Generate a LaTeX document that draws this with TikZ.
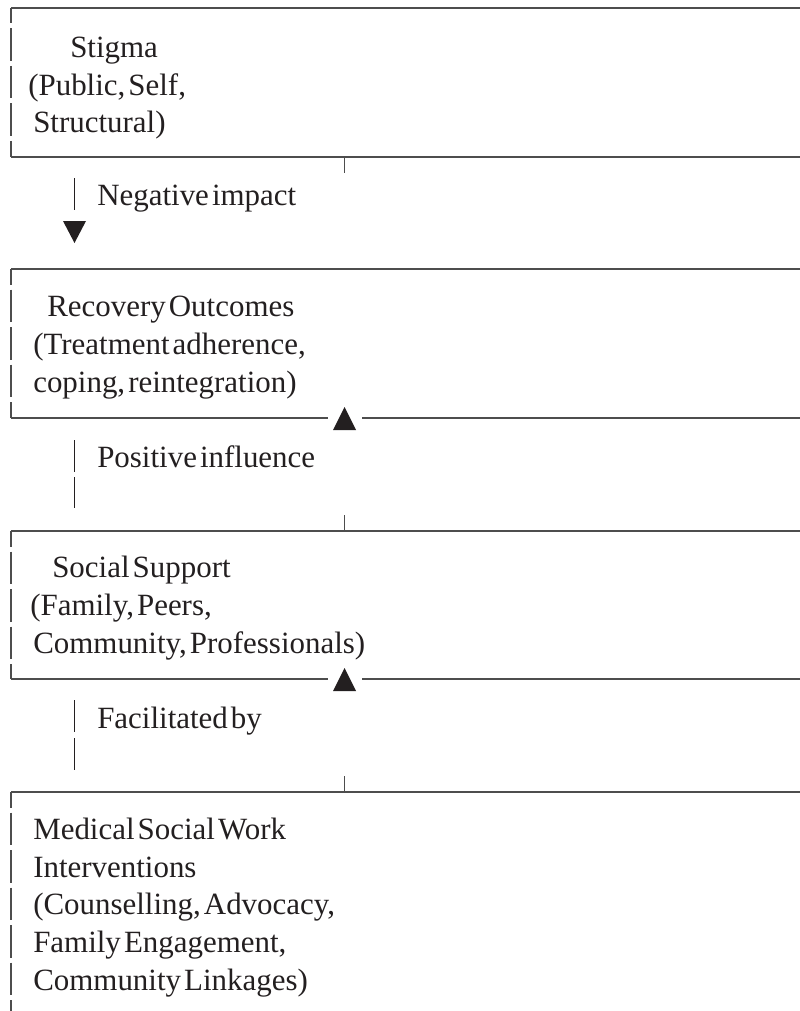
\documentclass[tikz,border=0pt]{standalone}
\usepackage{fontspec}
\setmainfont{Liberation Serif}[WordSpace=0.4]
\usetikzlibrary{positioning}
\newlength\px
\setlength\px{0.025cm}
\definecolor{edgegray}{HTML}{4D4D4D}
\definecolor{inkblack}{HTML}{231F20}
\tikzset{
  every node/.style={
    font=\fontsize{22pt}{26.7pt}\selectfont,
    text=inkblack,
    inner sep=0pt
  },
  panel/.style={
    anchor=north west,
    minimum width=820\px,
    outer sep=0pt
  },
  boxtext/.style={
    anchor=base west,
    align=left
  },
  linklabel/.style={
    anchor=base west
  },
  boxedge/.style={
    draw=edgegray,
    line width=0.85pt
  },
  sideedge/.style={
    boxedge,
    dash pattern=on 32.5\px off 5\px,
    dash phase=17\px
  },
  linkbar/.style={
    draw=inkblack,
    line width=0.7pt
  },
  headfill/.style={
    fill=inkblack
  }
}
\begin{document}
\begin{tikzpicture}[x=1\px, y=-1\px]
\useasboundingbox (0,0) rectangle (800,1011);

\node[panel, minimum height=149\px] (stigma) at (11,8) {};
\node[panel, minimum height=149\px] (recovery) at (11,269) {};
\node[panel, minimum height=148\px] (support) at (11,531) {};
\node[panel, minimum height=240\px] (msw) at (11,792) {};

\node[boxtext] (stigmatext) at (33,133)
  {\hspace*{37\px}Stigma\\\hspace*{-5\px}(Public, Self,\\Structural)};
\node[boxtext] (recoverytext) at (33,392)
  {\hspace*{14\px}Recovery Outcomes\\(Treatment adherence,\\coping, reintegration)};
\node[boxtext] (supporttext) at (33,653)
  {\hspace*{19\px}Social Support\\\hspace*{-3\px}(Family, Peers,\\Community, Professionals)};
\node[boxtext] (mswtext) at (33,990)
  {Medical Social Work\\Interventions\\(Counselling, Advocacy,\\Family Engagement,\\Community Linkages)};

\node[linklabel] (neglabel) at (97,205) {Negative impact};
\node[linklabel] (poslabel) at (97,467) {Positive influence};
\node[linklabel] (faclabel) at (97,728) {Facilitated by};

\draw[boxedge] (stigma.north east) -- (stigma.north west);
\draw[sideedge] (stigma.north west) -- (stigma.south west);
\draw[boxedge] (stigma.south west) -- (stigma.south east);

\draw[boxedge] (recovery.north east) -- (recovery.north west);
\draw[sideedge] (recovery.north west) -- (recovery.south west);
\draw[boxedge] (recovery.south west) -- ++(317,0);
\draw[boxedge] ([xshift=351\px]recovery.south west) -- (recovery.south east);

\draw[boxedge] (support.north east) -- (support.north west);
\draw[sideedge] (support.north west) -- (support.south west);
\draw[boxedge] (support.south west) -- ++(317,0);
\draw[boxedge] ([xshift=351\px]support.south west) -- (support.south east);

\draw[boxedge] (msw.north east) -- (msw.north west);
\draw[sideedge] (msw.north west) -- (msw.south west);

\coordinate (negtick) at ([xshift=333\px]stigma.south west);
\coordinate (postick) at ([xshift=333\px]support.north west);
\coordinate (factick) at ([xshift=333\px]msw.north west);
\draw[boxedge, line width=0.7pt] (negtick) -- ++(0,16);
\draw[boxedge, line width=0.7pt] (postick) -- ++(0,-16);
\draw[boxedge, line width=0.7pt] (factick) -- ++(0,-16);

\coordinate (neghead) at (74.5,232);
\coordinate (poshead) at ([xshift=333.5\px]recovery.south west);
\coordinate (fachead) at ([xshift=333.5\px]support.south west);
\fill[headfill] (neghead) ++(-11.5,-11) -- ++(23,0) -- ++(-11.5,22) -- cycle;
\fill[headfill] (poshead) ++(0,-11) -- ++(11.5,23) -- ++(-23,0) -- cycle;
\fill[headfill] (fachead) ++(0,-11) -- ++(11.5,23) -- ++(-23,0) -- cycle;

\draw[linkbar] (74,178) -- (74,210);
\draw[linkbar] (74,440) -- (74,472);
\draw[linkbar] (74,477) -- (74,508);
\draw[linkbar] (74,700) -- (74,732);
\draw[linkbar] (74,738) -- (74,770);

\end{tikzpicture}
\end{document}
